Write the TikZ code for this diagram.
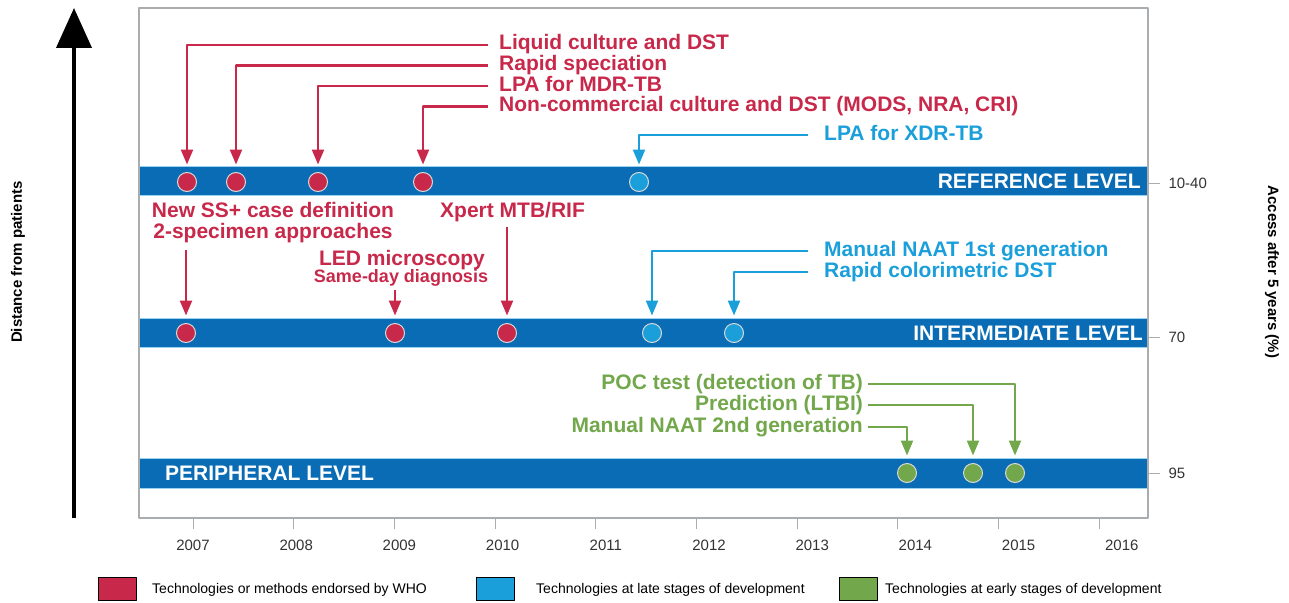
\documentclass[tikz,border=0pt]{standalone}
\usepackage{fontspec}
\setmainfont{Liberation Sans}
\usetikzlibrary{arrows.meta}
\definecolor{whored}{HTML}{C8284A}
\definecolor{lateblue}{HTML}{1A9FDB}
\definecolor{earlygreen}{HTML}{72A74B}
\definecolor{bandblue}{HTML}{0A6CB4}
\definecolor{framegray}{HTML}{A9ADB0}
\newcommand{\lblfont}{\fontsize{21}{21}\selectfont\bfseries}
\newcommand{\smallfont}{\fontsize{18}{18}\selectfont\bfseries}
\newcommand{\axfont}{\fontsize{15}{15}\selectfont}
\begin{document}
\begin{tikzpicture}[x=1pt,y=-1pt,>={Triangle[length=15pt,width=12pt]},line join=round,
  lbl/.style={font=\lblfont,text height=14pt,text depth=4pt,inner ysep=0pt},
  redlbl/.style={lbl,text=whored,anchor=west,inner xsep=11pt},
  bluelbl/.style={lbl,text=lateblue,anchor=west,inner xsep=16pt},
  greenlbl/.style={lbl,text=earlygreen,anchor=east,inner xsep=5pt},
  midlbl/.style={lbl,text=whored,inner xsep=0pt},
  bandlbl/.style={font=\lblfont,text=white,text height=15pt,text depth=0pt,inner sep=0pt},
  band/.style={fill=bandblue,draw=lateblue!45!white,line width=.8pt},
  conn/.style={->,line width=2.3pt,shorten >=7.5pt},
  redarr/.style={conn,whored},
  bluearr/.style={conn,lateblue},
  greenarr/.style={conn,earlygreen},
  dot/.style={circle,minimum size=19pt,inner sep=0pt,draw=white!85!black,line width=1pt},
  rdot/.style={dot,fill=whored},
  bdot/.style={dot,fill=lateblue},
  gdot/.style={dot,fill=earlygreen},
  axlbl/.style={font=\axfont,text=black!80,inner sep=0pt},
  sidelbl/.style={font=\fontsize{15}{15}\selectfont\bfseries,inner sep=0pt},
  legsq/.style={draw=black,line width=.8pt,minimum width=38pt,minimum height=23pt,inner sep=0pt},
  legtxt/.style={font=\fontsize{14}{14}\selectfont,anchor=west,inner sep=0pt}]
\useasboundingbox (0,0) rectangle (1289,602);
\path[band] (139,166) rectangle (1148,195);
\path[band] (139,318) rectangle (1148,347);
\path[band] (139,458) rectangle (1148,488);
\draw[framegray,line width=1.5pt] (139,8) rectangle (1148,518);
\node[bandlbl,anchor=east] (reflvl) at (1141,181) {REFERENCE LEVEL};
\node[bandlbl,anchor=east] (intlvl) at (1143,333) {INTERMEDIATE LEVEL};
\node[bandlbl,anchor=west] (perlvl) at (165,473) {PERIPHERAL LEVEL};
\node[rdot] (r1) at (187,182) {};
\node[rdot] (r2) at (236,182) {};
\node[rdot] (r3) at (318,182) {};
\node[rdot] (r4) at (423,182) {};
\node[bdot] (b1) at (639,182) {};
\node[rdot] (r5) at (186,333) {};
\node[rdot] (r6) at (395,333) {};
\node[rdot] (r7) at (507,333) {};
\node[bdot] (b2) at (652,333) {};
\node[bdot] (b3) at (734,333) {};
\node[gdot] (g1) at (907,473) {};
\node[gdot] (g2) at (973,473) {};
\node[gdot] (g3) at (1015,473) {};
\node[redlbl] (liq) at (488,45) {Liquid culture and DST};
\node[redlbl] (rapid) at (488,65.5) {Rapid speciation};
\node[redlbl] (lpamdr) at (488,86) {LPA for MDR-TB};
\node[redlbl] (noncom) at (488,106.5) {Non-commercial culture and DST (MODS, NRA, CRI)};
\node[bluelbl] (lpaxdr) at (808,135) {LPA for XDR-TB};
\node[midlbl] (newss) at (273,212) {New SS+ case definition};
\node[midlbl] (spec) at (273,233) {2-specimen approaches};
\node[midlbl] (led) at (402,260) {LED microscopy};
\node[midlbl,font=\smallfont,text height=12pt,text depth=3.5pt] (sameday) at (401,278) {Same-day diagnosis};
\node[midlbl,anchor=west] (xpert) at (440,212) {Xpert MTB/RIF};
\node[bluelbl] (naat1) at (808,251) {Manual NAAT 1st generation};
\node[bluelbl] (colori) at (808,272) {Rapid colorimetric DST};
\node[greenlbl] (poc) at (868,384) {POC test (detection of TB)};
\node[greenlbl] (ltbi) at (868,405) {Prediction (LTBI)};
\node[greenlbl] (naat2) at (868,427) {Manual NAAT 2nd generation};
\draw[redarr] (liq.west) -| (r1.north);
\draw[redarr] (rapid.west) -| (r2.north);
\draw[redarr] (lpamdr.west) -| (r3.north);
\draw[redarr] (noncom.west) -| (r4.north);
\draw[bluearr] (lpaxdr.west) -| (b1.north);
\draw[redarr,shorten <=8pt] (spec.south -| r5) -- (r5.north);
\draw[redarr,shorten <=4pt] (sameday.south -| r6) -- (r6.north);
\draw[redarr,shorten <=6pt] (xpert.south -| r7) -- (r7.north);
\draw[bluearr] (naat1.west) -| (b2.north);
\draw[bluearr] (colori.west) -| (b3.north);
\draw[greenarr] (poc.east) -| (g3.north);
\draw[greenarr] (ltbi.east) -| (g2.north);
\draw[greenarr] (naat2.east) -| (g1.north);
\foreach \yr [count=\i from 0] in {2007,...,2016}{
  \draw[framegray,line width=1pt] (193+100.7*\i,518) -- ++(0,11);
  \node[axlbl] (yr\yr) at (193+103.2*\i,545) {\yr};
}
\draw[framegray,line width=1pt] (1148,183) -- (1160,183) node[axlbl,anchor=west,xshift=8pt] (acc1) {10-40};
\draw[framegray,line width=1pt] (1148,337) -- (1160,337) node[axlbl,anchor=west,xshift=8pt] (acc2) {70};
\draw[framegray,line width=1pt] (1148,473) -- (1160,473) node[axlbl,anchor=west,xshift=8pt] (acc3) {95};
\draw[line width=4pt,-{Triangle[length=40pt,width=35pt]}] (74,518) -- (74,8);
\node[sidelbl,rotate=90] (dist) at (18,262) {Distance from patients};
\node[sidelbl,rotate=-90] (access) at (1272,272) {Access after 5 years (\%)};
\node[legsq,fill=whored] (lgred) at (117,589) {};
\node[legsq,fill=lateblue] (lgblue) at (495,589) {};
\node[legsq,fill=earlygreen] (lggreen) at (858,589) {};
\node[legtxt] (txred) at (152,590) {Technologies or methods endorsed by WHO};
\node[legtxt] (txblue) at (536,590) {Technologies at late stages of development};
\node[legtxt] (txgreen) at (885,590) {Technologies at early stages of development};
\end{tikzpicture}
\end{document}
